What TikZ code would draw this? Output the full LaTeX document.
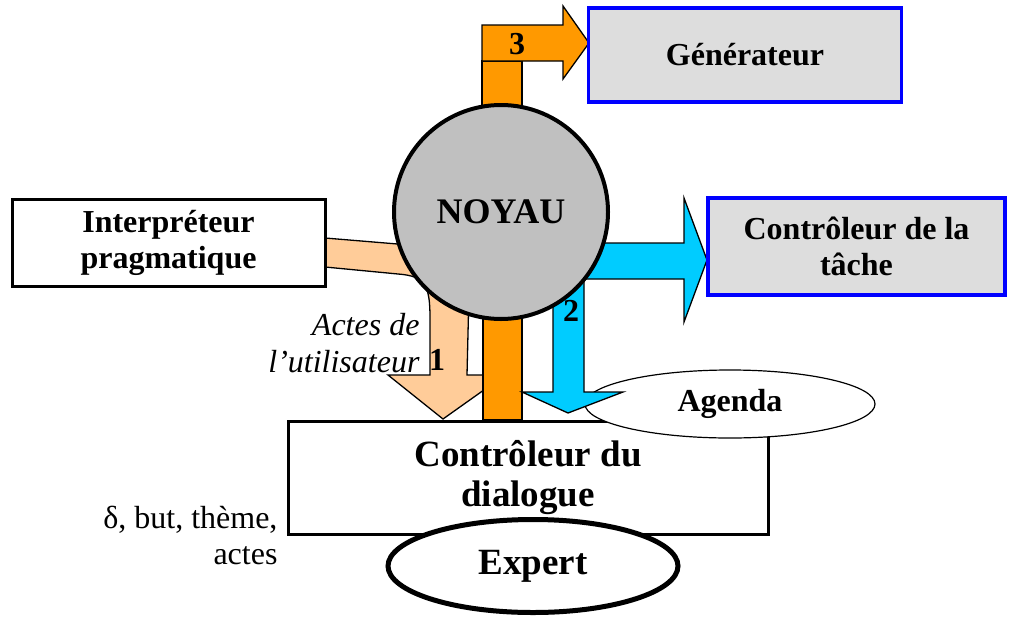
\documentclass[tikz,border=0pt]{standalone}
\usepackage{fontspec}
\setmainfont{Liberation Serif}
\usetikzlibrary{shapes.geometric}

\definecolor{modgray}{HTML}{DDDDDD}
\definecolor{coregray}{HTML}{C0C0C0}
\definecolor{flowora}{HTML}{FF9900}
\definecolor{flowpeach}{HTML}{FFCC99}
\definecolor{flowcyan}{HTML}{00CCFF}

\tikzset{
  txt/.style={font=\fontsize{32}{36}\selectfont},
  boldtxt/.style={font=\bfseries\fontsize{32}{36}\selectfont},
  bigtxt/.style={font=\bfseries\fontsize{37}{40}\selectfont},
  module/.style={draw=blue, line width=3.5pt, fill=modgray, align=center, boldtxt},
  plainbox/.style={draw, line width=3pt, fill=white, align=center},
  flow/.style={draw=black, line width=1.3pt, line join=miter}
}

\begin{document}
\begin{tikzpicture}[x=1pt, y=-1pt]
  \useasboundingbox (0,0) rectangle (1011,616);

  % dialogue controller and its two ellipses
  \node[plainbox, bigtxt, minimum width=480pt, minimum height=113pt] (dial) at (528,478) {Contrôleur du\\dialogue};
  \node[ellipse, draw, line width=1.2pt, fill=white, boldtxt, minimum width=290pt, minimum height=68pt] (agenda) at (730,404) {Agenda};
  \node[ellipse, draw, line width=5pt, fill=white, bigtxt, minimum width=290pt, minimum height=93pt] (expert) at (533,566) {Expert};

  % block arrows
  \draw[flow, fill=flowpeach] (325,238) -- (470,250) -- (467,375) -- (505,375) -- (443,419) -- (388,375) -- (430,375) -- (430,318)
    .. controls (430,285) and (425,276) .. (398,274) -- (325,267) -- cycle;
  \draw[flow, fill=flowora] (483,300) rectangle (522,420);
  \draw[flow, fill=flowcyan] (553,243) -- (684,243) -- (684,198) -- (707,260) -- (684,322) -- (684,279) -- (584,279)
    -- (584,392) -- (623,392) -- (568,413) -- (522,392) -- (553,392) -- cycle;
  \draw[flow, fill=flowora] (482,61) rectangle (522,140);
  \draw[flow, fill=flowora] (482,25) -- (563,25) -- (563,6) -- (589,43) -- (563,79) -- (563,61) -- (482,61) -- cycle;

  % core
  \node[circle, draw, line width=4pt, fill=coregray, minimum size=214pt, font=\bfseries\fontsize{36}{40}\selectfont] (noyau) at (501,212) {NOYAU};

  % modules
  \node[module, minimum width=313pt, minimum height=94pt] (gen) at (745,55) {Générateur};
  \node[module, minimum width=297pt, minimum height=97pt] (tache) at (856.5,246.5) {Contrôleur de la\\tâche};
  \node[plainbox, boldtxt, minimum width=313pt, minimum height=87pt] (interp) at (168.5,242.5) {Interpréteur\\pragmatique};

  % labels
  \node[boldtxt] (n1) at (437,360) {1};
  \node[boldtxt] (n2) at (571,311) {2};
  \node[boldtxt] (n3) at (517,44) {3};
  \node[txt, anchor=east, align=right, font=\itshape\fontsize{32}{37}\selectfont] (actes) at (423,343) {Actes de\\l’utilisateur};
  \node[txt, anchor=east, align=right] (etat) at (281,535) {δ, but, thème,\\actes};
\end{tikzpicture}
\end{document}
